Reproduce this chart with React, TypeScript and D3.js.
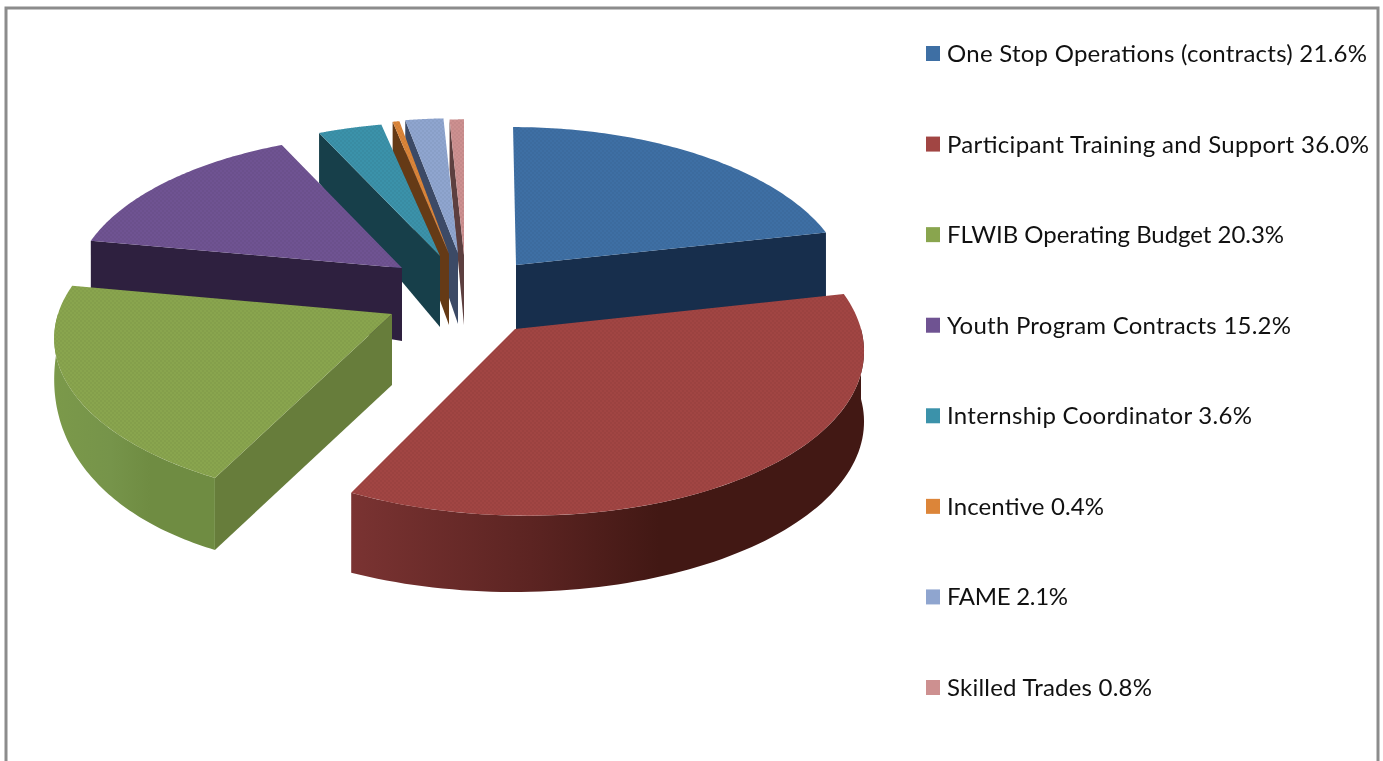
import React from "react";
import * as d3 from "d3";

const categories = ["One Stop Operations (contracts)", "Participant Training and Support", "FLWIB Operating Budget", "Youth Program Contracts", "Internship Coordinator", "Incentive", "FAME", "Skilled Trades"];
const values = [21.6, 36.0, 20.3, 15.2, 3.6, 0.4, 2.1, 0.8];
const topColors = ["#3e6fa4", "#a14543", "#89a54e", "#6f5392", "#3b92aa", "#dc8539", "#8fa5cf", "#cd9090"];
const faceColors = ["#172e4c", "#4a1a18", "#677d3b", "#2e203f", "#173f4a", "#653a16", "#3c4a66", "#5d3f3f"];
const rimLeft = ["#1b3553", "#7a3332", "#7b994a", "#2e203f", "#173f4a", "#653a16", "#3c4a66", "#5d3f3f"];
const rimMid = ["#1b3553", "#5c2422", "#76944a", "#2e203f", "#173f4a", "#653a16", "#3c4a66", "#5d3f3f"];
const rimRight = ["#172e4c", "#421814", "#6f8c42", "#2e203f", "#173f4a", "#653a16", "#3c4a66", "#5d3f3f"];

// projection frame of each exploded slice
const apexX = [516, 515, 392, 402, 440, 449, 458, 464];
const apexY = [265, 329, 314, 268, 256, 254, 253, 255];
const radiusX = [328, 346, 334, 325, 327, 314, 334, 331];
const radiusY = [158.6, 168, 160, 154, 154, 155, 155, 156];
const perspective = [0.15, 0.1, 0.15, 0.15, 0.15, 0.15, 0.15, 0.15];
const shearX = [3.4, 11, 0, 0, 0, 0, 0, 0];
const depthApex = [65, 78, 71, 73, 71, 71, 71, 70];
const depthStart = [60, 70, 72, 48, 50, 50, 50, 50];
const depthEnd = [66, 80, 15, 40, 48, 48, 48, 48];
const drawOrder = [7, 6, 5, 4, 3, 0, 2, 1];

const legendX = 926;
const legendY = d3.scaleLinear().domain([0, 7]).range([54, 688]);
const legendWidths = [420, 422, 337, 344, 305, 157, 121, 205];

const W = 1383;
const H = 761;
const line = d3.line();

export default function App() {
  const arcs = d3.pie<number>().sort(null).value((d) => d)(values);
  const slices = drawOrder.map((i) => {
    const { startAngle: a0, endAngle: a1 } = arcs[i];
    const ax = apexX[i], ay = apexY[i], rx = radiusX[i], ry = radiusY[i];
    const pt = (t: number): [number, number] => {
      const u = Math.sin(t), v = -Math.cos(t);
      const w = 1 / (1 - perspective[i] * v);
      return [ax + rx * u * w + shearX[i] * v * w, ay + ry * v * w];
    };
    const rimDepth = (t: number) => {
      const k = (t - a0) / (a1 - a0);
      return depthStart[i] + k * k * (depthEnd[i] - depthStart[i]);
    };
    const sample = (s: number, e: number) => d3.range(0, 81).map((k) => s + ((e - s) * k) / 80);
    const top = [[ax, ay] as [number, number], ...sample(a0, a1).map((t) => pt(t))];
    const faceAt = (t: number): [number, number][] => {
      const p = pt(t);
      const d = rimDepth(t);
      return [[ax, ay], p, [p[0], p[1] + d], [ax, ay + depthApex[i]]];
    };
    const faces: [number, number][][] = [];
    if (Math.sin(a0) < 0) faces.push(faceAt(a0));
    if (Math.sin(a1) > 0) faces.push(faceAt(a1));
    const rs = Math.max(a0, Math.PI / 2), re = Math.min(a1, (3 * Math.PI) / 2);
    let rim: [number, number][] | null = null;
    if (re > rs) {
      const ts = sample(rs, re);
      rim = [...ts.map((t) => pt(t)), ...ts.slice().reverse().map((t) => {
        const p = pt(t);
        return [p[0], p[1] + rimDepth(t)] as [number, number];
      })];
    }
    return { i, top, faces, rim };
  });

  return (
    <svg width={W} height={H} viewBox={`0 0 ${W} ${H}`} style={{ position: "fixed", left: 0, top: 0, background: "#fff" }}>
      <defs>
        <pattern id="dots" width="4" height="4" patternUnits="userSpaceOnUse">
          <rect x="0" y="0" width="2" height="2" fill="#000" opacity="0.04" />
          <rect x="2" y="2" width="2" height="2" fill="#000" opacity="0.04" />
        </pattern>
        {slices.filter((s) => s.rim).map((s) => {
          const xs = s.rim!.map((p) => p[0]);
          return (
            <linearGradient key={s.i} id={`rim${s.i}`} gradientUnits="userSpaceOnUse" x1={d3.min(xs)} x2={d3.max(xs)} y1="0" y2="0">
              <stop offset="0" stopColor={rimLeft[s.i]} />
              <stop offset="0.35" stopColor={rimMid[s.i]} />
              <stop offset="0.6" stopColor={rimRight[s.i]} />
              <stop offset="1" stopColor={rimRight[s.i]} />
            </linearGradient>
          );
        })}
      </defs>
      <rect x="6" y="8" width="1372" height="780" fill="#fff" stroke="#8c8c8c" strokeWidth="3" />
      {slices.map((s) => (
        <g key={s.i}>
          {s.faces.map((f, k) => (
            <path key={k} d={line(f)! + "Z"} fill={faceColors[s.i]} />
          ))}
          {s.rim && <path d={line(s.rim)! + "Z"} fill={`url(#rim${s.i})`} />}
          <path d={line(s.top)! + "Z"} fill={topColors[s.i]} />
          <path d={line(s.top)! + "Z"} fill="url(#dots)" />
        </g>
      ))}
      {categories.map((c, i) => (
        <g key={c}>
          <rect x={legendX} y={legendY(i) - 8} width={14} height={15} fill={topColors[i]} />
          <text x={legendX + 21} y={legendY(i) + 8} fontFamily="Lato, 'Open Sans', sans-serif" fontSize={24} fill="#111" textLength={legendWidths[i]} lengthAdjust="spacing" style={{ filter: "blur(0.3px)" }}>
            {`${c} ${values[i].toFixed(1)}%`}
          </text>
        </g>
      ))}
    </svg>
  );
}
